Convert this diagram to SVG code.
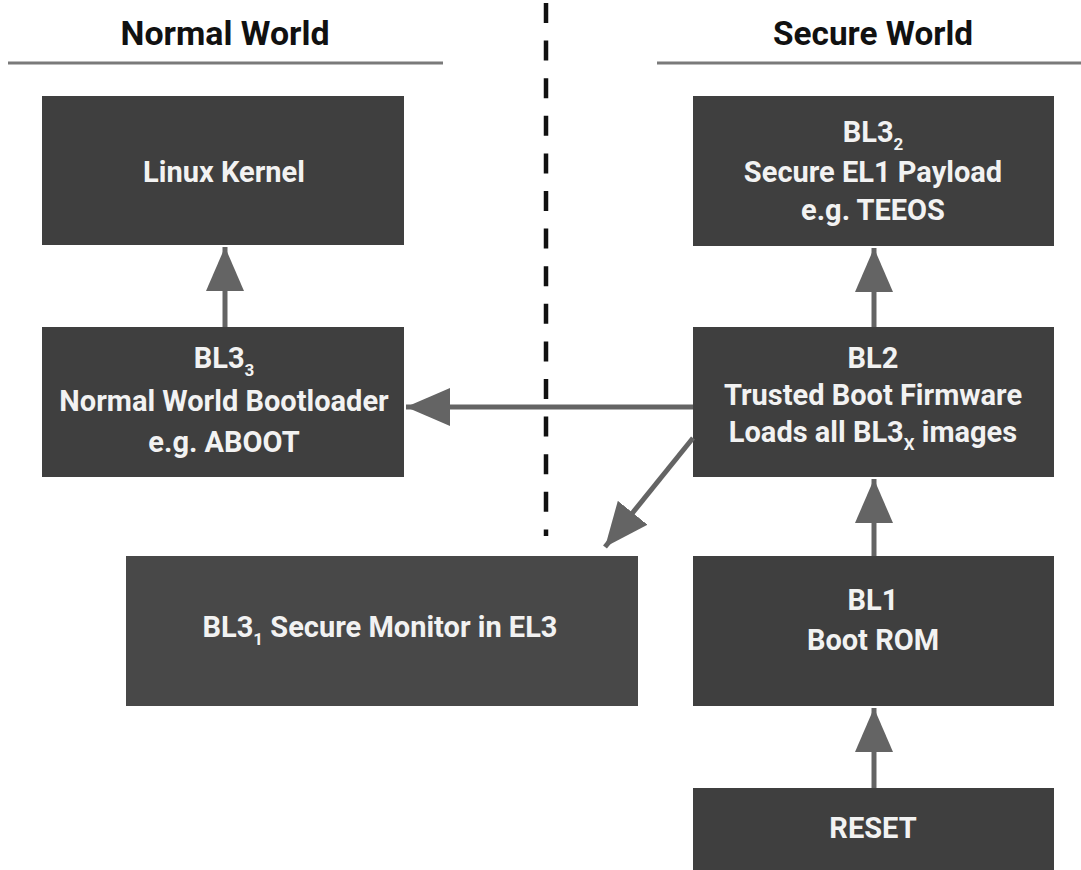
<svg xmlns="http://www.w3.org/2000/svg" width="1081" height="870" viewBox="0 0 1081 870">
<defs>
<style>
.box{fill:#3f3f3f;}
.box2{fill:#484848;}
.t{font-family:Roboto,"Liberation Sans",sans-serif;font-weight:bold;font-size:29px;fill:#f2f2f2;text-anchor:middle;}
.sub{font-size:17px;}
.h{font-family:Roboto,"Liberation Sans",sans-serif;font-weight:bold;font-size:33px;fill:#111;text-anchor:middle;}
.conn{stroke:#646464;stroke-width:5;fill:none;}
</style>
<marker id="ah" viewBox="0 0 44 38" refX="44" refY="19" markerWidth="44" markerHeight="38" markerUnits="userSpaceOnUse" orient="auto">
<path d="M0,0 L44,19 L0,38 Z" fill="#646464"/>
</marker>
</defs>
<rect width="1081" height="870" fill="#ffffff"/>
<g id="headers">
<text class="h" x="225" y="45" textLength="209" lengthAdjust="spacingAndGlyphs">Normal World</text>
<text class="h" x="873" y="45" textLength="200" lengthAdjust="spacingAndGlyphs">Secure World</text>
<line x1="8" y1="63" x2="443" y2="63" stroke="#7a7a7a" stroke-width="3"/>
<line x1="657" y1="63" x2="1081" y2="63" stroke="#7a7a7a" stroke-width="3"/>
<line x1="546" y1="3" x2="546" y2="536" stroke="#111" stroke-width="4.5" stroke-dasharray="20,17.6"/>
</g>
<g id="linux">
<rect class="box" x="42" y="96" width="362" height="149"/>
<text class="t" x="224" y="182">Linux Kernel</text>
</g>
<g id="bl33">
<rect class="box" x="42" y="327" width="362" height="150"/>
<text class="t" x="224" y="368">BL3<tspan class="sub" dy="8">3</tspan></text>
<text class="t" x="224" y="411">Normal World Bootloader</text>
<text class="t" x="224" y="452">e.g. ABOOT</text>
</g>
<g id="bl32">
<rect class="box" x="693" y="96" width="361" height="150"/>
<text class="t" x="873" y="142">BL3<tspan class="sub" dy="8">2</tspan></text>
<text class="t" x="873" y="182">Secure EL1 Payload</text>
<text class="t" x="873" y="220">e.g. TEEOS</text>
</g>
<g id="bl2">
<rect class="box" x="693" y="327" width="361" height="150"/>
<text class="t" x="873" y="368">BL2</text>
<text class="t" x="873" y="405">Trusted Boot Firmware</text>
<text class="t" x="873" y="442">Loads all BL3<tspan class="sub" dy="8">X</tspan><tspan dy="-8"> images</tspan></text>
</g>
<g id="bl31">
<rect class="box2" x="126" y="556" width="512" height="150"/>
<text class="t" x="380" y="637">BL3<tspan class="sub" dy="8">1</tspan><tspan dy="-8"> Secure Monitor in EL3</tspan></text>
</g>
<g id="bl1">
<rect class="box" x="693" y="556" width="361" height="150"/>
<text class="t" x="873" y="610">BL1</text>
<text class="t" x="873" y="650">Boot ROM</text>
</g>
<g id="reset">
<rect class="box" x="693" y="788" width="361" height="82"/>
<text class="t" x="873" y="838">RESET</text>
</g>
<g id="connectors">
<line class="conn" x1="225" y1="327" x2="225" y2="247" marker-end="url(#ah)"/>
<line class="conn" x1="874" y1="327" x2="874" y2="248" marker-end="url(#ah)"/>
<line class="conn" x1="693" y1="407" x2="406" y2="407" marker-end="url(#ah)"/>
<line class="conn" x1="693" y1="438" x2="605" y2="547" marker-end="url(#ah)"/>
<line class="conn" x1="874" y1="556" x2="874" y2="479" marker-end="url(#ah)"/>
<line class="conn" x1="874" y1="788" x2="874" y2="708" marker-end="url(#ah)"/>
</g>
</svg>
